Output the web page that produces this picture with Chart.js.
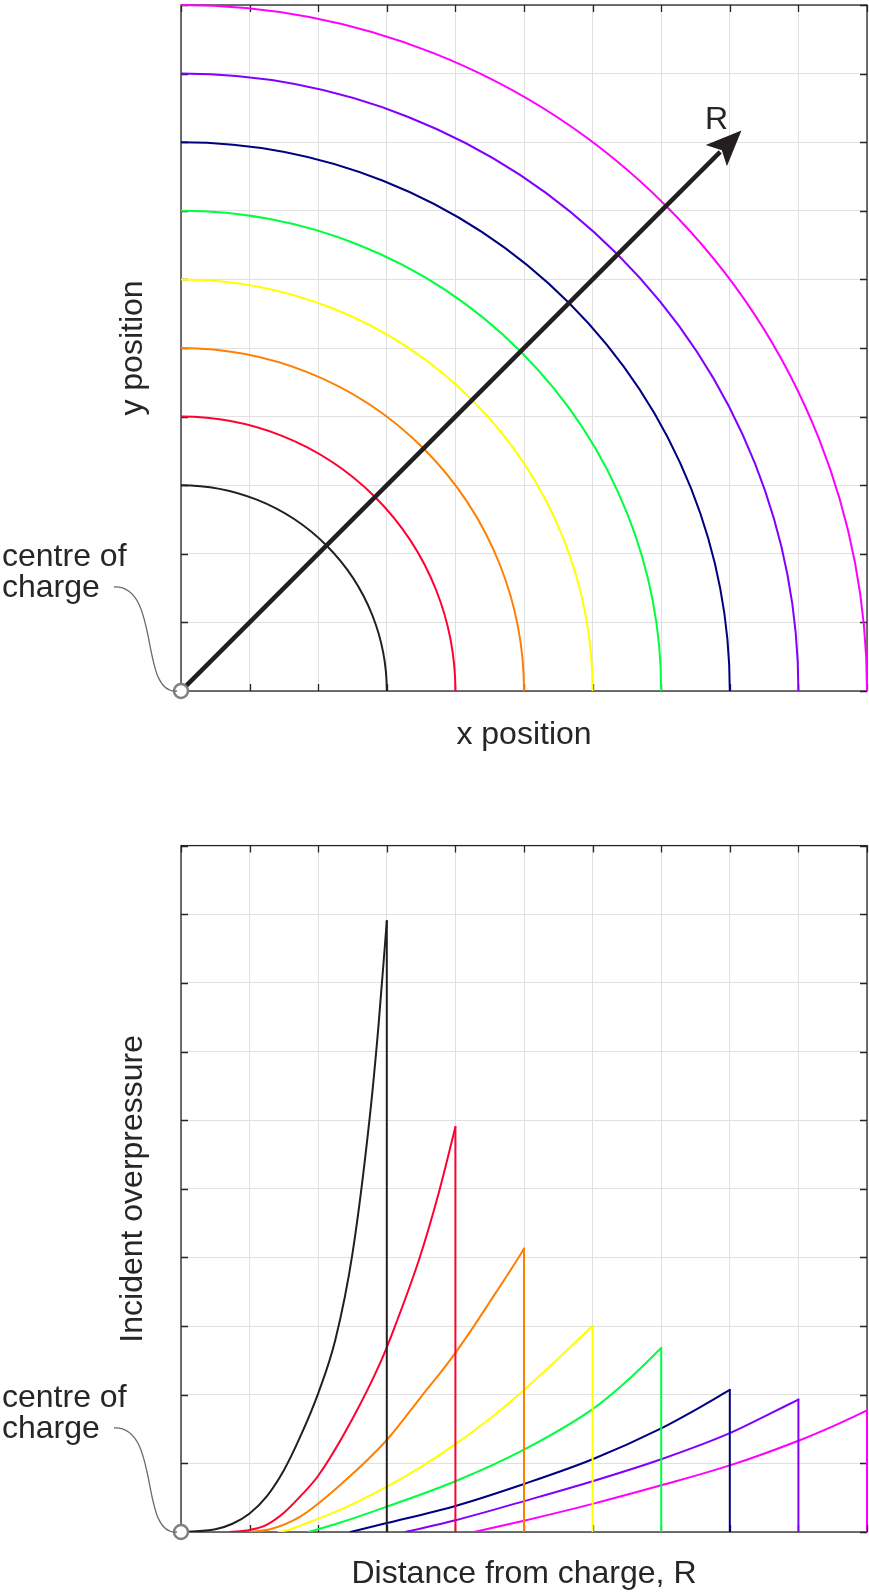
<!DOCTYPE html>
<html>
<head>
<meta charset="utf-8">
<script src="https://cdn.jsdelivr.net/npm/chart.js@4.4.1/dist/chart.umd.min.js"></script>
<style>
  html, body { margin: 0; padding: 0; background: #fff; overflow: hidden; }
  #wrap { position: relative; width: 869px; height: 1592px; }
  #c1 { position: absolute; left: 0; top: 0; }
  #c2 { position: absolute; left: 0; top: 779px; }
</style>
</head>
<body>
<div id="wrap">
  <canvas id="c1" width="869" height="780"></canvas>
  <canvas id="c2" width="869" height="813"></canvas>
</div>
<script>
// ---------------- DATA ----------------
const axisMin = 0;
const axisMax = 10;
const tickStep = 1;

// top chart: wave-front radii (grid units)
const radii = [3, 4, 5, 6, 7, 8, 9, 10];
const ringColors = ['#231f20', '#ff0030', '#ff8000', '#ffff00', '#00ff40', '#000080', '#8000ff', '#ff00ff'];

// arrow "R" (shaft end and tip, grid units)
const shaftX = [0, 7.86];
const shaftY = [0, 7.86];
const tipX = 8.17;
const tipY = 8.17;

// bottom chart: overpressure profiles, one per radius
const dist3 = [0, 0.5, 0.75, 1.0, 1.25, 1.5, 1.73, 2.0, 2.25, 2.5, 2.75, 2.875, 3.0];
const over3 = [0, 0.04, 0.12, 0.27, 0.52, 0.9, 1.37, 2.02, 2.8, 4.06, 6.03, 7.33, 8.9];
const dist4 = [0.71, 1.0, 1.24, 1.5, 1.73, 2.0, 2.5, 2.92, 3.12, 3.48, 3.76, 4.0];
const over4 = [0, 0.03, 0.1, 0.28, 0.51, 0.82, 1.65, 2.5, 3.0, 4.0, 4.95, 5.9];
const dist5 = [1.0, 1.3, 1.73, 2.36, 3.0, 3.5, 3.92, 4.27, 4.5, 4.91, 5.0];
const over5 = [0, 0.04, 0.22, 0.72, 1.34, 1.97, 2.5, 3.0, 3.35, 3.98, 4.13];
const dist6 = [1.42, 1.55, 1.73, 2.36, 3.0, 3.5, 4.0, 4.5, 5.0, 5.47, 6.0];
const over6 = [0, 0.025, 0.09, 0.34, 0.66, 0.95, 1.28, 1.65, 2.07, 2.5, 3.0];
const dist7 = [1.86, 2.3, 3.0, 4.0, 5.0, 6.0, 6.5, 7.0];
const over7 = [0, 0.13, 0.37, 0.74, 1.2, 1.79, 2.2, 2.68];
const dist8 = [2.47, 3.0, 4.0, 5.0, 6.0, 7.0, 7.5, 8.0];
const over8 = [0, 0.13, 0.38, 0.70, 1.06, 1.51, 1.78, 2.07];
const dist9 = [3.27, 4.0, 5.0, 6.0, 7.0, 8.0, 8.5, 9.0];
const over9 = [0, 0.17, 0.45, 0.74, 1.06, 1.44, 1.68, 1.93];
const dist10 = [4.27, 5.0, 6.0, 7.0, 8.0, 9.0, 9.5, 10.0];
const over10 = [0, 0.165, 0.41, 0.68, 0.97, 1.33, 1.54, 1.77];

const profileDist = [dist3, dist4, dist5, dist6, dist7, dist8, dist9, dist10];
const profileOver = [over3, over4, over5, over6, over7, over8, over9, over10];

// text
const topXTitle = 'x position';
const topYTitle = 'y position';
const botXTitle = 'Distance from charge, R';
const botYTitle = 'Incident overpressure';
const calloutLines = ['centre of', 'charge'];
const arrowLabel = 'R';

// ---------------- STYLE ----------------
const FONT = '"Liberation Sans", Arial, Helvetica, sans-serif';
const TXT = '#262626';
const GRID = '#e0e0e0';

function axes(xTitle, yTitle, xPad, xLH) {
  return {
    x: {
      type: 'linear', min: axisMin, max: axisMax,
      ticks: { display: false, stepSize: tickStep },
      grid: { color: GRID, drawTicks: false, lineWidth: 1 },
      border: { display: false },
      title: { display: true, text: xTitle, color: TXT,
               font: { family: FONT, size: 32, lineHeight: xLH },
               padding: { top: xPad, bottom: 0 } }
    },
    y: {
      type: 'linear', min: axisMin, max: axisMax,
      ticks: { display: false, stepSize: tickStep },
      grid: { color: GRID, drawTicks: false, lineWidth: 1 },
      border: { display: false },
      title: { display: true, text: yTitle, color: TXT,
               font: { family: FONT, size: 32, lineHeight: 1.0 },
               padding: { top: 117, bottom: 32 } }
    }
  };
}

const framePlugin = {
  id: 'frame',
  beforeDatasetsDraw(chart) {
    const { ctx, chartArea: { left, right, top, bottom }, scales: { x, y } } = chart;
    ctx.save();
    ctx.strokeStyle = TXT;
    ctx.lineWidth = 1.3;
    ctx.strokeRect(left, top, right - left, bottom - top);
    ctx.beginPath();
    const L = 7;
    x.ticks.forEach(t => {
      const px = Math.round(x.getPixelForValue(t.value)) + 0.5;
      ctx.moveTo(px, bottom); ctx.lineTo(px, bottom - L);
      ctx.moveTo(px, top); ctx.lineTo(px, top + L);
    });
    y.ticks.forEach(t => {
      const py = Math.round(y.getPixelForValue(t.value)) + 0.5;
      ctx.moveTo(left, py); ctx.lineTo(left + L, py);
      ctx.moveTo(right, py); ctx.lineTo(right - L, py);
    });
    ctx.stroke();
    ctx.restore();
  }
};

const ringsPlugin = {
  id: 'rings',
  beforeDatasetsDraw(chart) {
    const { ctx, scales: { x, y } } = chart;
    const cx = x.getPixelForValue(0), cy = y.getPixelForValue(0);
    radii.forEach((r, i) => {
      const rx = x.getPixelForValue(r) - cx;
      const ry = cy - y.getPixelForValue(r);
      ctx.save();
      ctx.strokeStyle = ringColors[i];
      ctx.lineWidth = 2;
      ctx.beginPath();
      ctx.ellipse(cx, cy, rx, ry, 0, -Math.PI / 2, 0);
      ctx.stroke();
      ctx.restore();
    });
  }
};

const arrowPlugin = {
  id: 'arrowHead',
  afterDatasetsDraw(chart) {
    const { ctx, scales: { x, y } } = chart;
    const ox = x.getPixelForValue(shaftX[0]), oy = y.getPixelForValue(shaftY[0]);
    const tx = x.getPixelForValue(tipX), ty = y.getPixelForValue(tipY);
    const len = Math.hypot(tx - ox, ty - oy);
    const dx = (tx - ox) / len, dy = (ty - oy) / len;
    const px = -dy, py = dx;
    const L = 35.6, W = 15, N = 0.78;
    ctx.save();
    ctx.fillStyle = '#231f20';
    ctx.beginPath();
    ctx.moveTo(tx, ty);
    ctx.lineTo(tx - L * dx + W * px, ty - L * dy + W * py);
    ctx.lineTo(tx - N * L * dx, ty - N * L * dy);
    ctx.lineTo(tx - L * dx - W * px, ty - L * dy - W * py);
    ctx.closePath();
    ctx.fill();
    ctx.fillStyle = TXT;
    ctx.font = '32px ' + FONT;
    ctx.textAlign = 'center';
    ctx.textBaseline = 'alphabetic';
    ctx.fillText(arrowLabel, tx - 25, ty - 1.5);
    ctx.restore();
  }
};

const originPlugin = {
  id: 'origin',
  afterDraw(chart) {
    const { ctx, scales: { x, y } } = chart;
    const ox = x.getPixelForValue(0), oy = y.getPixelForValue(0);
    ctx.save();
    ctx.beginPath();
    ctx.arc(ox, oy, 7, 0, Math.PI * 2);
    ctx.fillStyle = '#ffffff';
    ctx.fill();
    ctx.lineWidth = 2.5;
    ctx.strokeStyle = '#808080';
    ctx.stroke();
    ctx.beginPath();
    ctx.moveTo(ox - 67, oy - 104);
    ctx.bezierCurveTo(ox - 20, oy - 106, ox - 42, oy + 4, ox - 4, oy);
    ctx.lineWidth = 1.3;
    ctx.strokeStyle = '#6b6b6b';
    ctx.stroke();
    ctx.fillStyle = TXT;
    ctx.font = '32px ' + FONT;
    ctx.textAlign = 'left';
    ctx.textBaseline = 'alphabetic';
    ctx.fillText(calloutLines[0], 2, oy - 125);
    ctx.fillText(calloutLines[1], 2, oy - 94);
    ctx.restore();
  }
};

const baseOptions = (pad, xt, yt, xPad, xLH) => ({
  responsive: false,
  animation: false,
  events: [],
  layout: { padding: pad },
  plugins: { legend: { display: false }, tooltip: { enabled: false } },
  scales: axes(xt, yt, xPad, xLH)
});

// ---------------- TOP CHART ----------------
new Chart(document.getElementById('c1'), {
  type: 'scatter',
  data: {
    datasets: [{
      data: shaftX.map((v, i) => ({ x: v, y: shaftY[i] })),
      showLine: true,
      borderColor: '#231f20',
      borderWidth: 4.5,
      pointRadius: 0,
      borderCapStyle: 'butt'
    }]
  },
  options: baseOptions({ left: 0, right: 2, top: 5, bottom: 29 }, topXTitle, topYTitle, 28, 1.0),
  plugins: [framePlugin, ringsPlugin, arrowPlugin, originPlugin]
});

// ---------------- BOTTOM CHART ----------------
const botDatasets = [];
profileDist.forEach((d, i) => {
  const o = profileOver[i];
  botDatasets.push({
    data: d.map((v, k) => ({ x: v, y: o[k] })),
    showLine: true,
    cubicInterpolationMode: 'monotone',
    borderColor: ringColors[i],
    borderWidth: 2,
    pointRadius: 0,
    borderCapStyle: 'round'
  });
  const R = d[d.length - 1], P = o[o.length - 1];
  botDatasets.push({
    data: [{ x: R, y: P }, { x: R, y: 0 }],
    showLine: true,
    borderColor: ringColors[i],
    borderWidth: 2,
    pointRadius: 0,
    borderCapStyle: 'round'
  });
});

new Chart(document.getElementById('c2'), {
  type: 'scatter',
  data: { datasets: botDatasets },
  options: baseOptions({ left: 0, right: 2, top: 66.6, bottom: 2 }, botXTitle, botYTitle, 26, 1.0),
  plugins: [framePlugin, originPlugin]
});
</script>
</body>
</html>
